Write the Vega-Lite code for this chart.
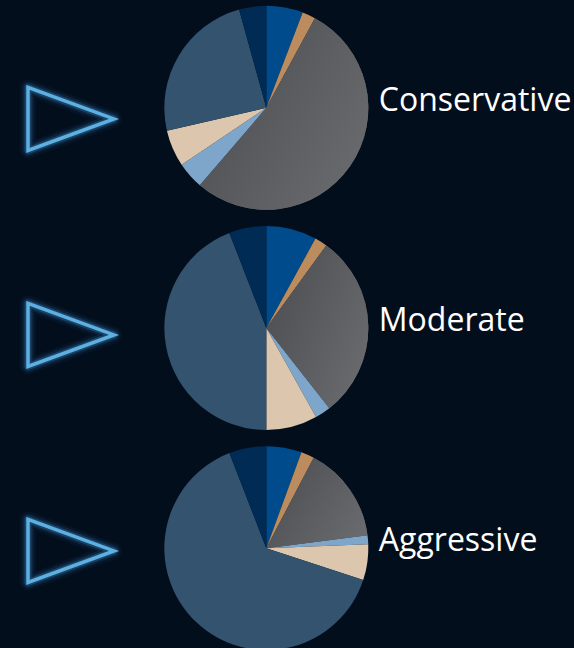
{
  "$schema": "https://vega.github.io/schema/vega-lite/v6.json",
  "width": 574,
  "height": 656,
  "padding": 0,
  "background": "#030e1c",
  "config": {"view": {"stroke": null}},
  "datasets": {
    "alloc": [
      {"profile": "Conservative", "asset": "Cash", "rank": 1, "pct": 5.8},
      {"profile": "Conservative", "asset": "Commodities", "rank": 2, "pct": 2.1},
      {"profile": "Conservative", "asset": "Fixed Income", "rank": 3, "pct": 53.4},
      {"profile": "Conservative", "asset": "TIPS", "rank": 4, "pct": 4.3},
      {"profile": "Conservative", "asset": "Real Estate", "rank": 5, "pct": 5.8},
      {"profile": "Conservative", "asset": "US Equity", "rank": 6, "pct": 24.3},
      {"profile": "Conservative", "asset": "Intl Equity", "rank": 7, "pct": 4.3},
      {"profile": "Moderate", "asset": "Cash", "rank": 1, "pct": 8.0},
      {"profile": "Moderate", "asset": "Commodities", "rank": 2, "pct": 2.0},
      {"profile": "Moderate", "asset": "Fixed Income", "rank": 3, "pct": 29.4},
      {"profile": "Moderate", "asset": "TIPS", "rank": 4, "pct": 2.5},
      {"profile": "Moderate", "asset": "Real Estate", "rank": 5, "pct": 8.1},
      {"profile": "Moderate", "asset": "US Equity", "rank": 6, "pct": 44.1},
      {"profile": "Moderate", "asset": "Intl Equity", "rank": 7, "pct": 5.9},
      {"profile": "Aggressive", "asset": "Cash", "rank": 1, "pct": 5.6},
      {"profile": "Aggressive", "asset": "Commodities", "rank": 2, "pct": 2.1},
      {"profile": "Aggressive", "asset": "Fixed Income", "rank": 3, "pct": 15.3},
      {"profile": "Aggressive", "asset": "TIPS", "rank": 4, "pct": 1.4},
      {"profile": "Aggressive", "asset": "Real Estate", "rank": 5, "pct": 5.7},
      {"profile": "Aggressive", "asset": "US Equity", "rank": 6, "pct": 64.1},
      {"profile": "Aggressive", "asset": "Intl Equity", "rank": 7, "pct": 5.9}
    ],
    "profiles": [
      {"profile": "Conservative"},
      {"profile": "Moderate"},
      {"profile": "Aggressive"}
    ]
  },
  "layer": [
    {
      "layer": [
        {
          "data": {"name": "alloc"},
          "transform": [
            {"stack": "pct", "groupby": ["profile"], "sort": [{"field": "rank", "order": "ascending"}], "offset": "normalize", "as": ["a0", "a1"]}
          ],
          "mark": {"type": "arc", "radius": 102},
          "encoding": {
            "x": {"datum": 0.464, "type": "quantitative", "scale": {"domain": [0, 1], "nice": false, "zero": false}, "axis": null},
            "y": {"field": "profile", "type": "nominal", "scale": {"type": "point", "domain": ["Conservative", "Moderate", "Aggressive"], "padding": 0.49}, "axis": null},
            "theta": {"field": "a0", "type": "quantitative", "scale": {"domain": [0, 1], "nice": false, "zero": false}},
            "theta2": {"field": "a1"},
            "color": {
              "field": "asset", "type": "nominal", "legend": null,
              "scale": {
                "domain": ["Cash", "Commodities", "Fixed Income", "TIPS", "Real Estate", "US Equity", "Intl Equity"],
                "range": ["#004b8c", "#bd8c5e", "#5c5d60", "#7ea6cb", "#dcc6ae", "#33536f", "#002b55"]
              }
            }
          }
        },
        {
          "data": {"name": "alloc"},
          "transform": [
            {"stack": "pct", "groupby": ["profile"], "sort": [{"field": "rank", "order": "ascending"}], "offset": "normalize", "as": ["a0", "a1"]},
            {"filter": "datum.asset === 'Fixed Income'"}
          ],
          "mark": {
            "type": "arc", "radius": 102,
            "fill": {"gradient": "linear", "x1": 0, "y1": 0.2, "x2": 1, "y2": 0.8,
              "stops": [{"offset": 0, "color": "#4d4e51"}, {"offset": 1, "color": "#6a6b6e"}]}
          },
          "encoding": {
            "x": {"datum": 0.464, "type": "quantitative"},
            "y": {"field": "profile", "type": "nominal"},
            "theta": {"field": "a0", "type": "quantitative"},
            "theta2": {"field": "a1"}
          }
        },
        {
          "data": {"name": "profiles"},
          "mark": {"type": "text", "align": "left", "baseline": "middle", "dy": -7, "font": "Open Sans", "fontSize": 32, "color": "#ffffff"},
          "encoding": {
            "x": {"datum": 0.66, "type": "quantitative"},
            "y": {"field": "profile", "type": "nominal"},
            "text": {"field": "profile"}
          }
        }
      ]
    },
    {
      "data": {"name": "profiles"},
      "encoding": {
        "x": {"datum": 0.1237, "type": "quantitative"},
        "y": {"field": "profile", "type": "nominal", "scale": {"type": "point", "domain": ["Conservative", "Moderate", "Aggressive"], "padding": 0.5185, "align": 0.531}, "axis": null}
      },
      "layer": [
        {"mark": {"type": "point", "shape": "M-1,-0.733L1,0L-1,0.733Z", "size": 7396, "filled": false, "stroke": "#2f7fc0", "strokeWidth": 16, "strokeOpacity": 0.1, "strokeJoin": "round"}},
        {"mark": {"type": "point", "shape": "M-1,-0.733L1,0L-1,0.733Z", "size": 7396, "filled": false, "stroke": "#3a8ccc", "strokeWidth": 11, "strokeOpacity": 0.2, "strokeJoin": "round"}},
        {"mark": {"type": "point", "shape": "M-1,-0.733L1,0L-1,0.733Z", "size": 7396, "filled": false, "stroke": "#4a9ad6", "strokeWidth": 7, "strokeOpacity": 0.38, "strokeJoin": "round"}},
        {"mark": {"type": "point", "shape": "M-1,-0.733L1,0L-1,0.733Z", "size": 7396, "filled": false, "stroke": "#5cb0e2", "strokeWidth": 3.5, "strokeOpacity": 1, "opacity": 1, "strokeJoin": "miter"}}
      ]
    }
  ],
  "resolve": {"scale": {"y": "independent"}}
}
